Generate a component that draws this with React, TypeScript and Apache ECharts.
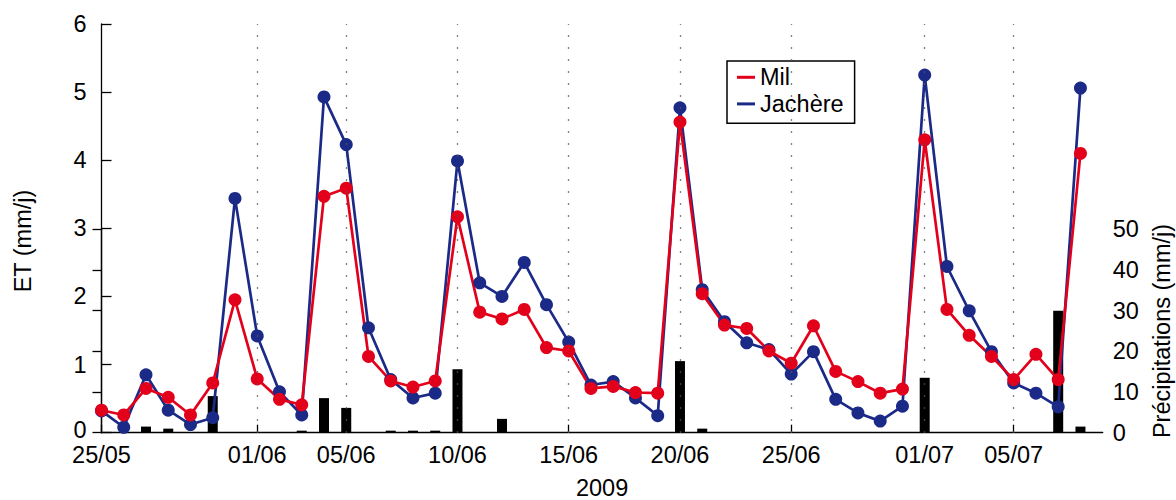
import React, { useEffect, useRef } from "react";
import * as echarts from "echarts";

// Daily dates (2009), x index = position in this list
const dates = [
  "25/05", "26/05", "27/05", "28/05", "29/05", "30/05", "31/05",
  "01/06", "02/06", "03/06", "04/06", "05/06", "06/06", "07/06", "08/06", "09/06",
  "10/06", "11/06", "12/06", "13/06", "14/06", "15/06", "16/06", "17/06", "18/06",
  "19/06", "20/06", "21/06", "22/06", "23/06", "24/06", "25/06", "26/06", "27/06",
  "28/06", "29/06", "30/06", "01/07", "02/07", "03/07", "04/07", "05/07", "06/07",
  "07/07", "08/07",
];
const tickLabels = ["25/05", "01/06", "05/06", "10/06", "15/06", "20/06", "25/06", "01/07", "05/07"];

// ET (mm/j)
const mil = [
  0.33, 0.26, 0.65, 0.52, 0.26, 0.73, 1.95, 0.79, 0.49, 0.41, 3.47, 3.59, 1.12, 0.76, 0.67,
  0.76, 3.17, 1.77, 1.67, 1.81, 1.25, 1.20, 0.65, 0.68, 0.59, 0.58, 4.56, 2.04, 1.58, 1.53,
  1.20, 1.02, 1.57, 0.90, 0.75, 0.58, 0.64, 4.30, 1.81, 1.43, 1.12, 0.78, 1.15, 0.78, 4.10,
];
const jachere = [
  0.32, 0.08, 0.85, 0.33, 0.12, 0.22, 3.44, 1.42, 0.60, 0.26, 4.93, 4.23, 1.54, 0.78, 0.51,
  0.58, 3.99, 2.20, 2.00, 2.50, 1.88, 1.33, 0.70, 0.75, 0.51, 0.25, 4.77, 2.10, 1.63, 1.32,
  1.22, 0.86, 1.19, 0.49, 0.29, 0.17, 0.39, 5.25, 2.44, 1.79, 1.19, 0.73, 0.58, 0.38, 5.06,
];
// Précipitations (mm/j)
const precip = [
  0, 0, 1.5, 1.0, 0, 9.0, 0, 0, 0, 0.5, 8.5, 6.1, 0, 0.5, 0.5,
  0.5, 15.6, 0, 3.4, 0, 0, 0, 0, 0, 0, 0, 17.6, 1.0, 0, 0,
  0, 0, 0, 0, 0, 0, 0, 13.5, 0, 0, 0, 0, 0, 30.0, 1.5,
];

const FONT = "'Liberation Sans', Arial, Helvetica, sans-serif";
const FS = 23.5;
const RED = "#E3001B";
const BLUE = "#1B2A87";

export default function App() {
  const ref = useRef<HTMLDivElement>(null);

  useEffect(() => {
    if (!ref.current) return;
    const chart = echarts.init(ref.current, undefined, { renderer: "svg" });
    const tickPos = tickLabels.map((l) => dates.indexOf(l));
    const gridPos = tickPos.filter((p) => p > 0);
    const xMax = dates.length; // one day past the last

    const gridBase = {
      left: 101.5,
      right: 73.3,
      bottom: 67.3,
      containLabel: false,
      outerBoundsMode: "none",
    };

    const labelText = { fontSize: FS, color: "#000", fontFamily: FONT };

    const option: any = {
      animation: false,
      backgroundColor: "#fff",
      textStyle: { fontFamily: FONT },
      grid: [
        { ...gridBase, top: 24 },
        { ...gridBase, top: 229.3 },
      ],
      legend: {
        data: ["Mil", "Jachère"],
        orient: "vertical",
        left: 727,
        top: 61,
        padding: [3, 11, 6, 10],
        itemGap: 0,
        itemWidth: 18,
        itemHeight: 3,
        icon: "rect",
        borderColor: "#000",
        borderWidth: 1.5,
        backgroundColor: "#fff",
        textStyle: { ...labelText, lineHeight: 26.6 },
      },
      xAxis: [
        {
          type: "value",
          gridIndex: 0,
          min: 0,
          max: xMax,
          axisLine: { show: true, lineStyle: { color: "#000", width: 1.3 } },
          axisTick: {
            show: true,
            inside: true,
            length: 8,
            customValues: tickPos,
            lineStyle: { color: "#000", width: 1.3 },
          },
          axisLabel: {
            customValues: tickPos,
            formatter: (v: number) => dates[Math.round(v)] ?? "",
            ...labelText,
            lineHeight: 18,
            margin: 13.5,
          },
          splitLine: { show: false },
          name: "2009",
          nameLocation: "middle",
          nameGap: 43,
          nameTextStyle: labelText,
        },
        {
          type: "value",
          gridIndex: 1,
          min: 0,
          max: xMax,
          show: false,
        },
      ],
      yAxis: [
        {
          type: "value",
          gridIndex: 0,
          min: 0,
          max: 6,
          interval: 1,
          axisLine: { show: true, lineStyle: { color: "#000", width: 1.3 } },
          axisTick: { show: true, inside: true, length: 10, lineStyle: { color: "#000", width: 1.3 } },
          axisLabel: {
            ...labelText,
            lineHeight: 18,
            margin: 15,
            formatter: (v: number) => (v === 0 ? "{z|0}" : String(v)),
            rich: { z: { ...labelText, lineHeight: 18, padding: [0, 0, 6, 0] } },
          },
          splitLine: { show: false },
        },
        {
          type: "value",
          gridIndex: 1,
          position: "right",
          min: 0,
          max: 50,
          interval: 10,
          axisLine: { show: true, lineStyle: { color: "#000", width: 1.3 } },
          axisTick: { show: true, inside: true, length: 9, lineStyle: { color: "#000", width: 1.3 } },
          axisLabel: { ...labelText, margin: 10 },
          splitLine: { show: false },
          name: "Précipitations (mm/j)",
          nameLocation: "middle",
          nameGap: 41,
          nameTextStyle: labelText,
        },
      ],
      graphic: [
        {
          type: "text",
          x: 22.5,
          y: 241,
          rotation: Math.PI / 2,
          style: {
            text: "ET (mm/j)",
            fill: "#000",
            font: `${FS}px ${FONT}`,
            align: "center",
            verticalAlign: "middle",
          },
        },
      ],
      series: [
        {
          name: "Précipitations",
          type: "bar",
          xAxisIndex: 1,
          yAxisIndex: 1,
          barWidth: 10,
          itemStyle: { color: "#000" },
          data: precip.map((v, i) => [i, v]),
        },
        {
          name: "Jachère",
          type: "line",
          xAxisIndex: 0,
          yAxisIndex: 0,
          symbol: "circle",
          symbolSize: 13,
          lineStyle: { color: BLUE, width: 2.7 },
          itemStyle: { color: BLUE },
          data: jachere.map((v, i) => [i, v]),
          markLine: {
            silent: true,
            symbol: ["none", "none"],
            label: { show: false },
            lineStyle: { color: "#555", type: [1.5, 10.5], width: 1.3 },
            data: gridPos.map((p) => ({ xAxis: p })),
          },
        },
        {
          name: "Mil",
          type: "line",
          xAxisIndex: 0,
          yAxisIndex: 0,
          symbol: "circle",
          symbolSize: 13,
          lineStyle: { color: RED, width: 2.7 },
          itemStyle: { color: RED },
          data: mil.map((v, i) => [i, v]),
        },
      ],
    };
    chart.setOption(option);
    return () => chart.dispose();
  }, []);

  return (
    <div
      ref={ref}
      style={{ position: "fixed", left: 0, top: 0, width: 1176, height: 500, background: "#fff" }}
    />
  );
}
